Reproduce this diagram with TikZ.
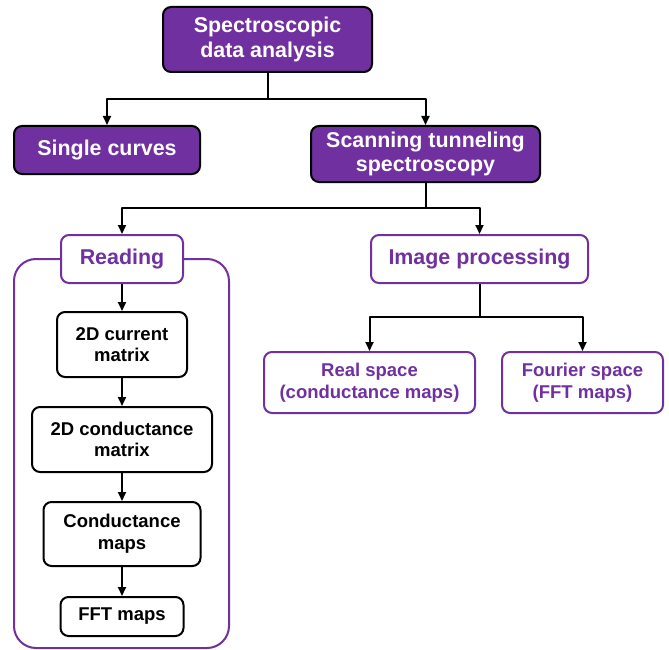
\documentclass[tikz,border=0pt]{standalone}
\usepackage{fontspec}
\setmainfont{Liberation Sans}
\usetikzlibrary{arrows.meta}
\definecolor{vio}{HTML}{7030A0}
\tikzset{
  box/.style={draw=black, line width=2pt, rounded corners=8pt, align=center, inner sep=0pt},
  mainbox/.style={box, fill=vio, text=white, font=\bfseries\fontsize{21.4}{24.5}\selectfont},
  subbox/.style={box, draw=vio, fill=white, text=vio, font=\bfseries\fontsize{21.4}{24.5}\selectfont},
  leafbox/.style={box, draw=vio, fill=white, text=vio, font=\bfseries\fontsize{18.5}{21.7}\selectfont},
  stepbox/.style={box, fill=white, text=black, font=\bfseries\fontsize{18.5}{21.7}\selectfont},
  arr/.style={line width=2pt, -{Triangle[length=9pt,width=8pt]}},
  ln/.style={line width=2pt}
}
\begin{document}
\begin{tikzpicture}[x=1pt, y=-1pt, line join=round]
	\useasboundingbox (0,0) rectangle (669,650);
	% frame round the reading steps
	\draw[vio, line width=2pt, rounded corners=22pt] (14,259) rectangle (229,648);
	\node[mainbox, minimum width=209pt, minimum height=65pt] (top) at (267.5,39.5) {Spectroscopic\\data analysis};
	\node[mainbox, minimum width=186pt, minimum height=48pt] (single) at (107,150) {Single curves};
	\node[mainbox, minimum width=229pt, minimum height=56pt] (sts) at (425.5,154) {Scanning tunneling\\spectroscopy};
	\node[subbox, minimum width=122pt, minimum height=48pt] (read) at (122,259) {Reading};
	\node[subbox, minimum width=217pt, minimum height=48pt] (img) at (479.5,259) {Image processing};
	\node[leafbox, minimum width=211pt, minimum height=61pt] (real) at (369.5,382.5) {Real space\\(conductance maps)};
	\node[leafbox, minimum width=161pt, minimum height=61pt] (four) at (582.5,382.5) {Fourier space\\(FFT maps)};
	\node[stepbox, minimum width=130pt, minimum height=65pt] (cur) at (122,344.5) {2D current\\matrix};
	\node[stepbox, minimum width=180pt, minimum height=65pt] (cond) at (122,439.5) {2D conductance\\matrix};
	\node[stepbox, minimum width=157pt, minimum height=64pt] (maps) at (122,534) {Conductance\\maps};
	\node[stepbox, minimum width=123pt, minimum height=39pt] (fft) at (122,616.5) {FFT maps};
	% branch points
	\coordinate (j1) at (267.5,99);
	\coordinate (j2) at (425.5,208);
	\coordinate (j3) at (479.5,317);
	\draw[ln] (top.south) -- (j1);
	\draw[arr] (j1) -| (single.north);
	\draw[arr] (j1) -| (sts.north);
	\draw[ln] (sts.south) -- (j2);
	\draw[arr] (j2) -| (read.north);
	\draw[arr] (j2) -| (img.north);
	\draw[ln] (img.south) -- (j3);
	\draw[arr] (j3) -| (real.north);
	\draw[arr] (j3) -| (four.north);
	\draw[arr] (read) -- (cur);
	\draw[arr] (cur) -- (cond);
	\draw[arr] (cond) -- (maps);
	\draw[arr] (maps) -- (fft);
\end{tikzpicture}
\end{document}
